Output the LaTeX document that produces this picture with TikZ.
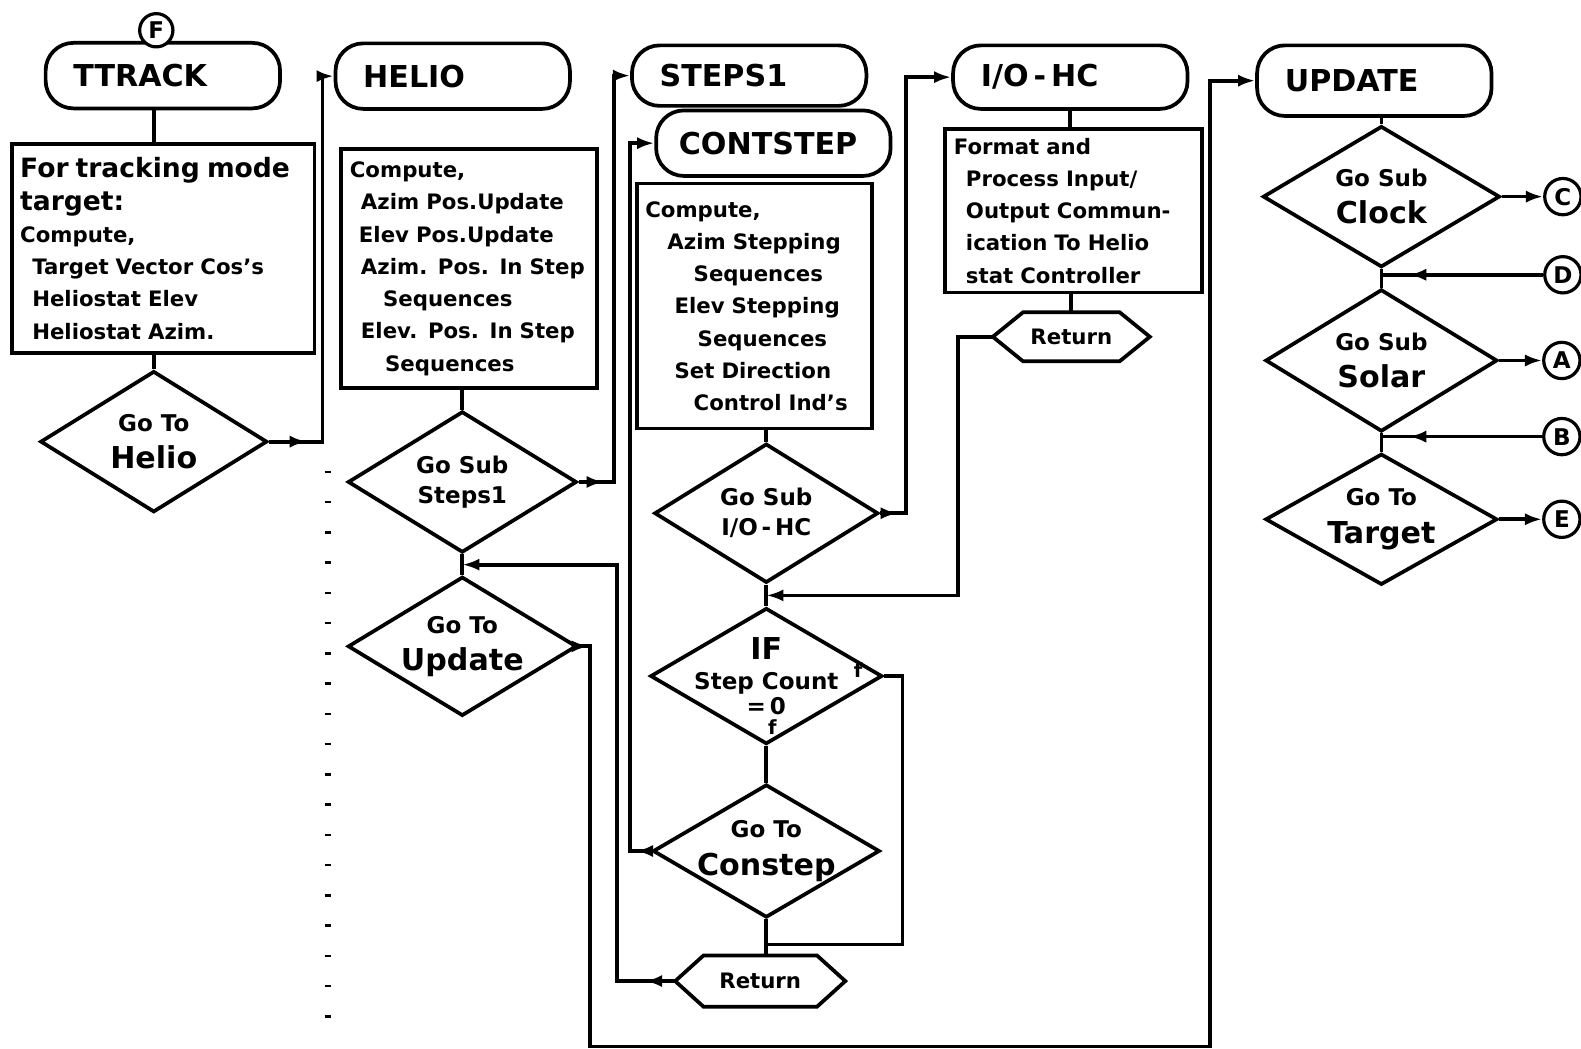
\documentclass[tikz,border=0pt]{standalone}
\usepackage{fontspec}
\setmainfont{DejaVu Sans}
\usetikzlibrary{
    shapes.geometric,
    arrows.meta,
    calc,
    decorations.markings
}

\newcommand{\fbig}{\fontsize{17}{21}\selectfont\bfseries}
\newcommand{\fsmall}{\fontsize{13}{17}\selectfont\bfseries}
\newcommand{\ftext}{\fontsize{12}{18.2}\selectfont\bfseries}
\newcommand{\retframe}[2]{%
    \draw[line width=2.1pt] (#1.west) -- ([xshift=#2]#1.north west) -- ([xshift=-#2]#1.north east)
        -- (#1.east) -- ([xshift=-#2]#1.south east) -- ([xshift=#2]#1.south west) -- cycle;}

\begin{document}
\begin{tikzpicture}[
    term/.style={rectangle, rounded corners=0.55cm, draw=black, line width=2.1pt, minimum height=1.3cm,
                 text width=3.55cm, inner xsep=0.55cm, align=left, font=\fbig},
    procbox/.style={rectangle, draw=black, line width=2.1pt, inner xsep=0.18cm, align=left, font=\ftext},
    decision/.style={diamond, aspect=1.6, draw=black, line width=2.1pt, inner sep=-0.35cm,
                     align=center, font=\fbig},
    retbox/.style={rectangle, inner sep=0pt, font=\ftext},
    conn/.style={circle, draw=black, line width=1.8pt, fill=white, minimum size=0.72cm,
                 inner sep=0pt, font=\fsmall},
    link/.style={line width=2.1pt},
    flow/.style={link, -{Latex[length=3.4mm,width=2.4mm]}},
    tipat/.style={postaction={decorate, decoration={markings,
        mark=at position #1 with {\arrow{Latex[length=3.4mm,width=2.4mm]}}}}}
]
    \useasboundingbox (0,0) rectangle (31.36,-20.8);

    % TTRACK
    \node (ttrack) [term] at (3.23,-1.5) {TTRACK};
    \node (fconn) [conn, minimum size=0.66cm] at (3.1,-0.6) {F};
    \node (ttbox) [procbox, text width=5.68cm, inner xsep=0.16cm, minimum height=4.14cm] at (3.24,-4.93)
        {\fontsize{15}{18.2}\selectfont For tracking mode\\target:\\\ftext Compute,\\
         \hspace*{0.24cm}Target Vector Cos's\\\hspace*{0.24cm}Heliostat Elev\\\hspace*{0.24cm}Heliostat Azim.};
    \node (gohelio) [decision, minimum width=4.5cm, minimum height=2.8cm] at (3.05,-8.76) {{\fsmall Go To}\\Helio};

    % HELIO
    \node (helio) [term] at (8.98,-1.51) {HELIO};
    \node (heliobox) [procbox, text width=4.72cm, minimum height=4.74cm] at (9.3,-5.33)
        {Compute,\\\hspace*{0.22cm}Azim Pos.Update\\\hspace*{0.18cm}Elev Pos.Update\\
         \hspace*{0.22cm}Azim. Pos. In Step\\\hspace*{0.66cm}Sequences\\
         \hspace*{0.22cm}Elev. Pos. In Step\\\hspace*{0.7cm}Sequences};
    \node (gosteps) [decision, minimum width=4.54cm, minimum height=2.8cm, font=\fsmall] at (9.17,-9.56) {Go Sub\\Steps1};
    \node (goupdate) [decision, minimum width=4.54cm, minimum height=2.76cm] at (9.17,-12.82) {{\fsmall Go To}\\Update};

    % STEPS1 and CONTSTEP
    \node (steps) [term, minimum height=1.2cm] at (14.86,-1.5) {STEPS1};
    \node (contstep) [term, text width=3.75cm, inner xsep=0.45cm] at (15.34,-2.84) {CONTSTEP};
    \node (csbox) [procbox, text width=4.34cm, inner xsep=0.16cm, minimum height=4.86cm] at (14.97,-6.07)
        {Compute,\\\hspace*{0.44cm}Azim Stepping\\\hspace*{0.96cm}Sequences\\
         \hspace*{0.58cm}Elev Stepping\\\hspace*{1.04cm}Sequences\\
         \hspace*{0.58cm}Set Direction\\\hspace*{0.96cm}Control Ind's};
    \node (gosubio) [decision, minimum width=4.44cm, minimum height=2.76cm, font=\fsmall] at (15.2,-10.18) {Go Sub\\I/O\,-\,HC};
    \node (ifnode) [decision, minimum width=4.6cm, minimum height=2.7cm, font=\fsmall] at (15.2,-13.41)
        {{\fbig IF}\\Step Count\\[-3pt]=\,0};
    \node (tmark) [font=\fontsize{11}{12}\selectfont\bfseries] at (17.02,-13.3) {f};
    \node (fmark) [font=\fontsize{11}{12}\selectfont\bfseries] at (15.32,-14.42) {f};
    \node (goconst) [decision, minimum width=4.5cm, minimum height=2.64cm] at (15.2,-16.88) {{\fsmall Go To}\\Constep};
    \node (ret1) [retbox, minimum width=3.36cm, minimum height=1.0cm] at (15.08,-19.46) {Return};
    \retframe{ret1}{0.56cm}

    % I/O-HC
    \node (iohc) [term, minimum height=1.26cm] at (21.23,-1.53) {I/O\,-\,HC};
    \node (iobox) [procbox, text width=4.74cm, minimum height=3.24cm] at (21.29,-4.18)
        {Format and\\\hspace*{0.24cm}Process Input/\\\hspace*{0.24cm}Output Commun-\\
         \hspace*{0.24cm}ication To Helio\\\hspace*{0.24cm}stat Controller};
    \node (ret2) [retbox, minimum width=3.1cm, minimum height=0.96cm] at (21.25,-6.68) {Return};
    \retframe{ret2}{0.6cm}

    % UPDATE
    \node (update) [term, minimum height=1.4cm] at (27.26,-1.6) {UPDATE};
    \node (goclock) [decision, minimum width=4.7cm, minimum height=2.8cm] at (27.4,-3.9) {{\fsmall Go Sub}\\Clock};
    \node (gosolar) [decision, minimum width=4.6cm, minimum height=2.82cm] at (27.4,-7.15) {{\fsmall Go Sub}\\Solar};
    \node (gotarget) [decision, minimum width=4.6cm, minimum height=2.6cm] at (27.4,-10.3) {{\fsmall Go To}\\Target};
    \node (cconn) [conn] at (31.0,-3.9) {C};
    \node (dconn) [conn] at (31.0,-5.45) {D};
    \node (aconn) [conn] at (30.98,-7.15) {A};
    \node (bconn) [conn] at (30.98,-8.66) {B};
    \node (econn) [conn] at (30.98,-10.3) {E};

    % Junctions and bends
    \coordinate (jh) at ($(gosteps.south)!0.5!(goupdate.north)$);
    \coordinate (jc) at ($(gosubio.south)!0.5!(ifnode.north)$);
    \coordinate (jr) at ($(goconst.south)+(0,-0.5)$);
    \coordinate (low1) at (11.7,-20.76);
    \coordinate (low2) at (24.0,-20.76);

    % Connections
    \draw [link] (ttrack.south -| gohelio.north) -- (ttbox.north -| gohelio.north);
    \draw [link] (ttbox.south -| gohelio.north) -- (gohelio.north);
    \draw [flow, tipat=0.75cm] (gohelio.east) -| ($(helio.west)+(-0.22,0)$) -- (helio.west);

    \draw [link] (heliobox.south -| gosteps.north) -- (gosteps.north);
    \draw [link] (gosteps.south) -- (goupdate.north);
    \draw [flow, tipat=0.5cm] (gosteps.east) -| ($(steps.west)+(-0.32,0)$) -- (steps.west);
    \draw [flow, tipat=0.2cm] (goupdate.east) -| (low1) -- (low2) |- (update.west);

    \draw [link] (csbox.south -| gosubio.north) -- (gosubio.north);
    \draw [link] (gosubio.south) -- (ifnode.north);
    \draw [link] (ifnode.south) -- (goconst.north);
    \draw [link] (goconst.south) -- (goconst.south |- ret1.north);
    \draw [flow, tipat=0.35cm] (gosubio.east) -| ($(iohc.west)+(-0.9,0)$) -- (iohc.west);
    \draw [flow] (ret2.west) -| ($(jc)+(3.8,0)$) -- (jc);
    \draw [link] (ifnode.east) -| ($(jr)+(2.7,0)$) -- (jr);
    \draw [flow, tipat=0.3cm] (goconst.west) -| ($(contstep.west)+(-0.48,0)$) -- (contstep.west);
    \draw [flow, tipat=0.6cm] (ret1.west) -| ($(jh)+(3.07,0)$) -- (jh);

    \draw [link] (iohc.south) -- (iohc.south |- iobox.north);
    \draw [link] (iobox.south -| ret2.north) -- (ret2.north);

    \draw [link] (update.south -| goclock.north) -- (goclock.north);
    \draw [link] (goclock.south) -- (gosolar.north);
    \draw [link] (gosolar.south) -- (gotarget.north);
    \draw [flow] (goclock.east) -- (cconn.west);
    \draw [link, tipat=-0.55cm] (dconn.west) -- (dconn.west -| goclock.south);
    \draw [flow] (gosolar.east) -- (aconn.west);
    \draw [link, tipat=-0.55cm] (bconn.west) -- (bconn.west -| gosolar.south);
    \draw [flow] (gotarget.east) -- (econn.west);

    % margin marks
    \foreach \k in {0,...,18}
        \draw [line width=1.4pt] (6.44,-9.36-0.6*\k) -- ++(0.12,0);

\end{tikzpicture}
\end{document}
